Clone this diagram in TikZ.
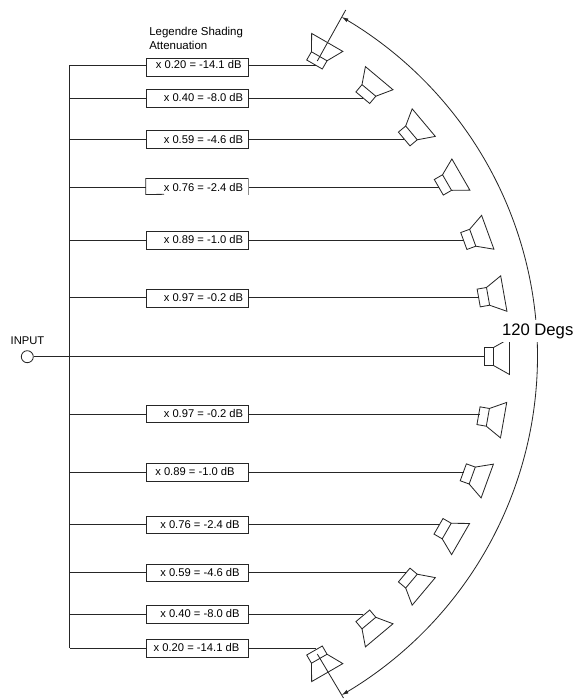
\documentclass[tikz,border=0pt]{standalone}
\usepackage{fontspec}
\setmainfont{Liberation Sans}
\usetikzlibrary{arrows.meta}
\tikzset{
  wire/.style={line width=0.62pt,black!85},
  ampbox/.style={draw=black!85,line width=0.62pt,rectangle,inner sep=0pt,minimum width=76.5pt},
  amplabel/.style={font=\fontsize{8.4}{10}\selectfont,inner sep=0pt,anchor=base},
  spk/.pic={
    \draw[wire,line join=miter] (0,-9) rectangle (9.5,9);
    \draw[wire,line join=miter] (9.5,9) -- (25.5,18) -- (25.5,-18) -- (9.5,-9);
  }
}
% #1 id, #2 line y, #3 box top, #4 box bottom, #5 text centre x, #6 text, #7 line end x
\newcommand{\ampline}[7]{
  \coordinate (b#1) at (69.7,#2);
  \coordinate (e#1) at (#7,#2);
  \node[ampbox,minimum height={(#4-#3)*0.75pt}] (n#1) at (197,{(#3+#4)/2}) {};
  \node[amplabel] (t#1) at (#5,{#2+3.9}) {#6};
  \draw[wire] (b#1) -- (b#1 -| n#1.west);
  \draw[wire] (n#1.east |- e#1) -- (e#1);
}
\begin{document}
\begin{tikzpicture}[x=0.75pt,y=-0.75pt]
\useasboundingbox (0,0) rectangle (574,700);

\node[font=\fontsize{8.6}{10.5}\selectfont,align=left,inner sep=0pt,anchor=west] (title) at (149,38) {Legendre Shading\\Attenuation};

\ampline{1}{65}{58}{76}{198.7}{x 0.20 = -14.1 dB}{315.7}
\ampline{2}{98}{89}{107}{203.5}{x 0.40 = -8.0 dB}{362.8}
\ampline{3}{139.5}{130.7}{148.3}{203.5}{x 0.59 = -4.6 dB}{404.2}
\coordinate (b4) at (69.7,187.3);
\coordinate (e4) at (438.8,187.3);
\node[inner sep=0pt,minimum width=76.5pt,minimum height=11.7pt] (n4) at (197,186.5) {};
\node[amplabel] (t4) at (203.5,191.2) {x 0.76 = -2.4 dB};
\draw[wire] (b4) -- (b4 -| n4.west);
\draw[wire] (n4.east |- e4) -- (e4);
\draw[wire] (164,194.3) -- (n4.south west) -- (n4.north west) -- (n4.north east);
\draw[line width=0.62pt,black!45] (n4.north east) -- (n4.south east);
\ampline{5}{240}{231.3}{249.3}{203.5}{x 0.89 = -1.0 dB}{463.8}
\ampline{6}{297.8}{289.3}{307.7}{203.5}{x 0.97 = -0.2 dB}{479}
\ampline{8}{414}{405.3}{422.7}{203.5}{x 0.97 = -0.2 dB}{480}
\ampline{9}{472}{463.7}{481.3}{195}{x 0.89 = -1.0 dB}{464}
\ampline{10}{524.7}{516}{533.7}{200}{x 0.76 = -2.4 dB}{440}
\ampline{11}{572.7}{564.3}{581.3}{200}{x 0.59 = -4.6 dB}{406}
\ampline{12}{614}{605.3}{623}{200}{x 0.40 = -8.0 dB}{363.3}
\ampline{13}{648}{639.3}{657}{196.5}{x 0.20 = -14.1 dB}{315.7}

% bus
\draw[wire] (b1) -- (b13);

% input
\node[font=\fontsize{8.4}{10}\selectfont,inner sep=0pt,anchor=base] (inlabel) at (27.5,344) {INPUT};
\node[draw=black!85,line width=0.62pt,circle,inner sep=0pt,minimum size=9pt] (input) at (27.3,356.7) {};
\coordinate (e7) at (484,356.7);
\draw[wire] (input.east) -- (e7);

% speakers
\pic[rotate=60] at (314.5,64.5) {spk};
\pic[rotate=50] at (362.8,97.7) {spk};
\pic[rotate=40] at (404.2,139) {spk};
\pic[rotate=30] at (438.8,187.3) {spk};
\pic[rotate=20] at (463.8,241) {spk};
\pic[rotate=10] at (478.7,298) {spk};
\pic[rotate=0]  at (484,356.5) {spk};
\pic[rotate=-10] at (478.5,415.7) {spk};
\pic[rotate=-20] at (463.3,472.3) {spk};
\pic[rotate=-30] at (438.5,526.3) {spk};
\pic[rotate=-40] at (404.2,575) {spk};
\pic[rotate=-50] at (362.8,615.8) {spk};
\pic[rotate=-60] at (314.5,650.5) {spk};

% radial ticks and arc
\coordinate (r1a) at (317.3,61);
\coordinate (r1b) at (345.7,10);
\coordinate (r2a) at (317.3,654);
\coordinate (r2b) at (343.5,698);
\draw[wire] (r1a) -- (r1b);
\draw[wire] (r2a) -- (r2b);
\draw[wire,{Latex[length=5pt,width=3pt]}-{Latex[length=5pt,width=3pt]}]
  plot[smooth,domain=-60:60,samples=61] ({146+391.5*cos(\x)},{356+391.5*sin(\x)});

\node[fill=white,inner sep=0pt,font=\fontsize{12.5}{14}\selectfont,minimum height=16.5pt,minimum width=54pt] (deg) at (537.7,331) {120 Degs};
\end{tikzpicture}
\end{document}
